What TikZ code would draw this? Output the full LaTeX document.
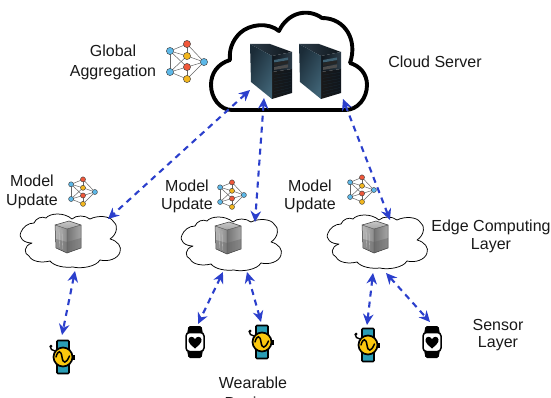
\documentclass[tikz,border=0pt]{standalone}
\usepackage{fontspec}
\setmainfont{Liberation Sans}
\usetikzlibrary{arrows.meta}
\definecolor{arrowblue}{HTML}{2B3FCC}
\definecolor{nnblue}{HTML}{5DB8E8}
\definecolor{nnred}{HTML}{F0583A}
\definecolor{nnyellow}{HTML}{F2B61E}
\definecolor{strapteal}{HTML}{2A9DB5}
\definecolor{watchyellow}{HTML}{FBC80E}
\definecolor{srvdark}{HTML}{0F161D}
\definecolor{srvmid}{HTML}{1B2C38}
\definecolor{srvlight}{HTML}{3F6274}
\definecolor{srvtop}{HTML}{2C3C48}
\tikzset{
  x=1pt,y=-1pt,
  lbl/.style={font=\fontsize{16}{16}\selectfont,text=black!90,inner sep=0pt,anchor=center},
  link/.style={draw=arrowblue,line width=2.1pt,dash pattern=on 6pt off 5pt,{Stealth[length=11pt,width=10.5pt]}-{Stealth[length=11pt,width=10.5pt]}},
  nnedge/.style={draw=black!60,line width=.5pt},
  pics/nnet/.style={code={
    \begin{scope}[scale=#1]
    \coordinate (-lt) at (-17,-11);
    \coordinate (-lb) at (-17,10);
    \coordinate (-r) at (17,0);
    \coordinate (-a) at (0,-18);
    \coordinate (-b) at (0,-6);
    \coordinate (-c) at (0,5);
    \coordinate (-d) at (0,17);
    \foreach \p in {a,b,c,d}{\draw[nnedge] (-r) -- (-\p);}
    \foreach \p in {a,b,c}{\draw[nnedge] (-lt) -- (-\p);}
    \foreach \p in {b,c,d}{\draw[nnedge] (-lb) -- (-\p);}
    \draw[nnedge] (-lt) -- (-lb);
    \draw[nnedge] (-a) -- (-b) (-c) -- (-d);
    \fill[nnblue,draw=black!75,line width=.45pt] (-lt) circle (3.6);
    \fill[nnblue,draw=black!75,line width=.45pt] (-lb) circle (3.6);
    \fill[nnblue,draw=black!75,line width=.45pt] (-r) circle (3.6);
    \fill[nnred,draw=black!75,line width=.45pt] (-a) circle (3.6);
    \fill[nnyellow,draw=black!75,line width=.45pt] (-b) circle (3.6);
    \fill[nnred,draw=black!75,line width=.45pt] (-c) circle (3.6);
    \fill[nnyellow,draw=black!75,line width=.45pt] (-d) circle (3.6);
    \end{scope}
  }},
  pics/bigserver/.style={code={
    % local origin: top left corner of the tower
    \shade[left color=srvtop,right color=srvdark] (0,0) -- (20,0) -- (42,8) -- (22,12) -- cycle;
    \shade[left color=srvdark,right color=srvtop] (22,12) -- (42,8) -- (42,25) -- (22,28) -- cycle;
    \shade[left color=black!90,right color=srvdark] (22,28) -- (42,25) -- (42,49) -- (22,55) -- cycle;
    \shade[left color=srvmid,right color=srvlight,shading angle=60] (0,0) -- (22,12) -- (22,55) -- (1,38) -- cycle;
    \fill[srvlight] (24,16) -- (38,13.5) -- (38,16) -- (24,18.5) -- cycle;
    \fill[black!85] (24,19) -- (38,16.5) -- (38,19.5) -- (24,22) -- cycle;
    \fill[black!70] (24,23) -- (38,20.5) -- (38,23.5) -- (24,26) -- cycle;
    \foreach \i in {0,1,...,6}{\draw[srvmid,line width=.25pt] (24,31+\i*3.3) -- (41,28.5+\i*3.0);}
  }},
  pics/smallserver/.style={code={
    \shade[top color=black!22,bottom color=black!35] (-14,-16) -- (0,-20) -- (12,-16) -- (-2,-12) -- cycle;
    \shade[left color=black!28,right color=black!45] (-14,-16) -- (-2,-12) -- (-2,12) -- (-13,7) -- cycle;
    \shade[left color=black!55,right color=black!35] (-2,-12) -- (12,-16) -- (12,7) -- (-2,12) -- cycle;
    \fill[black!60,opacity=.45] (-13,-2) -- (-2,1) -- (12,-3) -- (12,7) -- (-2,12) -- (-13,7) -- cycle;
    \draw[black!75,line width=.5pt] (-14,-16) -- (0,-20) -- (12,-16) -- (12,7) -- (-2,12) -- (-13,7) -- cycle;
    \draw[black!70,line width=.35pt] (-14,-16) -- (-2,-12) -- (12,-16) (-2,-12) -- (-2,12);
    \draw[white,opacity=.5,line width=.3pt] (-10,-12) -- (-9.5,6) (-7,-11) -- (-6.5,8);
  }},
  pics/edgecloud/.style={code={
    \draw[black,line width=.75pt,fill=white,line join=round]
      (-38,3) .. controls (-46,3) and (-52,-2) .. (-49,-8)
      .. controls (-47,-13) and (-42,-17) .. (-36,-17)
      .. controls (-34,-22) and (-28,-24) .. (-24,-22)
      .. controls (-20,-27) and (-6,-28) .. (2,-21)
      .. controls (6,-25) and (15,-25) .. (20,-21)
      .. controls (28,-25) and (40,-24) .. (43,-19)
      .. controls (48,-16) and (48,-6) .. (40,-1)
      .. controls (48,1) and (52,7) .. (50,12)
      .. controls (48,19) and (38,22) .. (30,20)
      .. controls (26,27) and (10,29) .. (3,27)
      .. controls (-6,28) and (-16,26) .. (-20,21)
      .. controls (-28,23) and (-38,22) .. (-41,16)
      .. controls (-46,14) and (-47,6) .. (-38,3) -- cycle;
  }},
  pics/yellowwatch/.style={code={
    \fill[strapteal,draw=black,line width=1.6pt,rounded corners=1pt] (-6,-16.5) rectangle (6,16.5);
    \fill[black] (9,-2.5) rectangle (11.5,2.5);
    \fill[watchyellow,draw=black,line width=1.7pt] (0,0) circle (9.5);
    \draw[black,line width=1.5pt,line cap=round] (-7,0) .. controls (-5,-7) and (-2,-7) .. (-1,0) .. controls (0,7) and (3,7) .. (6.5,-1);
    \draw[black,line width=1.4pt] (-13,-11) arc[start angle=180,end angle=90,radius=5];
    \fill[black] (-12,-11) circle (1.5);
  }},
  pics/heartwatch/.style={code={
    \fill[black,rounded corners=1.5pt] (-6.5,-16) -- (6.5,-16) -- (8,-8) -- (-8,-8) -- cycle;
    \fill[black,rounded corners=1.5pt] (-8,8) -- (8,8) -- (6.5,16) -- (-6.5,16) -- cycle;
    \fill[white,draw=black,line width=1.5pt,rounded corners=3.5pt] (-9,-9.5) rectangle (9,9.5);
    \fill[black] (0,6.5) .. controls (-4,3) and (-7,0.5) .. (-6.5,-2.5) .. controls (-6,-6) and (-1.5,-6) .. (0,-2.8) .. controls (1.5,-6) and (6,-6) .. (6.5,-2.5) .. controls (7,0.5) and (4,3) .. (0,6.5) -- cycle;
  }}
}
\begin{document}
\begin{tikzpicture}
\useasboundingbox (0,0) rectangle (551,398);
\clip (0,0) rectangle (551,398);
\fill[white] (0,0) rectangle (551,398);

% main cloud
\draw[black,line width=3.9pt,fill=white,line join=round]
  (232,110) -- (345,110)
  .. controls (358,110) and (367,98) .. (367,85)
  .. controls (367,74) and (360,66) .. (350,63)
  .. controls (358,40) and (345,18) .. (322,18)
  .. controls (308,8) and (288,12) .. (279,31)
  .. controls (268,22) and (250,24) .. (240,33)
  .. controls (232,41) and (229,50) .. (230,60)
  .. controls (217,64) and (211,74) .. (211,85)
  .. controls (211,98) and (220,110) .. (232,110) -- cycle;

\pic (srvA) at (250,44) {bigserver};
\pic (srvB) at (299,44) {bigserver};

% edge clouds
\pic (cloudL) at (70,240) {edgecloud};
\pic (cloudM) at (231,243) {edgecloud};
\pic (cloudR) at (377,241) {edgecloud};
\pic (srvL) at (69,241) {smallserver};
\pic (srvM) at (229,242) {smallserver};
\pic (srvR) at (376,241) {smallserver};

% networks
\pic (nnTop) at (187,62) {nnet=1};
\pic (nnL) at (83,192) {nnet=.7};
\pic (nnM) at (232,195) {nnet=.7};
\pic (nnR) at (362,190) {nnet=.7};

% wearables
\pic (watchA) at (63,357) {yellowwatch};
\pic (watchB) at (195,342) {heartwatch};
\pic (watchC) at (262,342) {yellowwatch};
\pic (watchD) at (368,345) {yellowwatch};
\pic (watchE) at (432,342) {heartwatch};

% connector ends
\coordinate (cTopA) at (250,90);
\coordinate (cTopB) at (264,98);
\coordinate (cTopC) at (343,99);
\coordinate (eL) at (108,219);
\coordinate (eM) at (255,222);
\coordinate (eR) at (390,220);
\coordinate (eLb) at (75,271);
\coordinate (eMa) at (223,272);
\coordinate (eMb) at (247,272);
\coordinate (eRa) at (373,273);
\coordinate (eRb) at (386,273);
\coordinate (wA) at (62,335);
\coordinate (wB) at (198,324);
\coordinate (wC) at (261,322);
\coordinate (wD) at (367,325);
\coordinate (wE) at (430,322);

\draw[link] (cTopA) -- (eL);
\draw[link] (cTopB) -- (eM);
\draw[link] (cTopC) -- (eR);
\draw[link] (eLb) -- (wA);
\draw[link] (eMa) -- (wB);
\draw[link] (eMb) -- (wC);
\draw[link] (eRa) -- (wD);
\draw[link] (eRb) -- (wE);

% labels
\node[lbl] (t1) at (113,51) {Global};
\node[lbl] (t2) at (113,72) {Aggregation};
\node[lbl] (t3) at (435,62) {Cloud Server};
\node[lbl] (t4) at (32,181) {Model};
\node[lbl] (t5) at (32,201) {Update};
\node[lbl] (t6) at (187,186) {Model};
\node[lbl] (t7) at (187,205) {Update};
\node[lbl] (t8) at (310,186) {Model};
\node[lbl] (t9) at (310,205) {Update};
\node[lbl] (t10) at (491,227) {Edge Computing};
\node[lbl] (t11) at (491,246) {Layer};
\node[lbl] (t12) at (498,325) {Sensor};
\node[lbl] (t13) at (498,344) {Layer};
\node[lbl] (t14) at (253,383) {Wearable};
\node[lbl] (t15) at (253,403) {Devices};
\end{tikzpicture}
\end{document}
